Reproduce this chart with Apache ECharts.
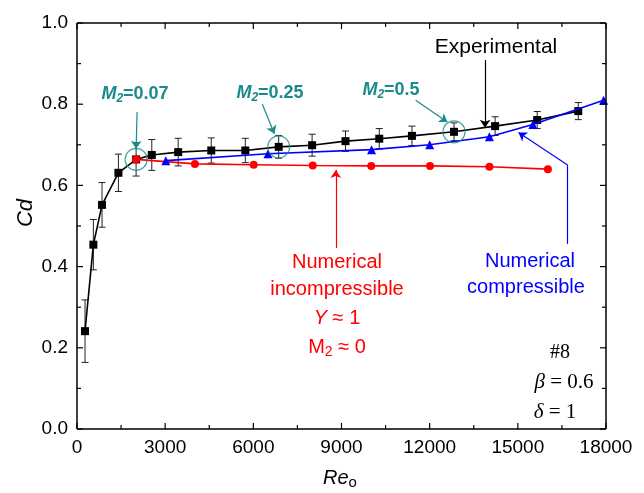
<!DOCTYPE html>
<html>
<head>
<meta charset="utf-8">
<script src="https://cdn.jsdelivr.net/npm/echarts@6/dist/echarts.min.js"></script>
<style>
  html, body { margin: 0; padding: 0; background: #fff; }
  #main { width: 644px; height: 493px; background: #fff; }
</style>
</head>
<body>
<div id="main"></div>
<script>
// experimental Cd with error bars
var expX = [273, 557, 852, 1409, 2011, 2545, 3443, 4568, 5727, 6863, 8000, 9136, 10285, 11397, 12829, 14227, 15659, 17056];
var expY = [0.241, 0.454, 0.552, 0.631, 0.664, 0.675, 0.682, 0.686, 0.686, 0.695, 0.699, 0.709, 0.715, 0.722, 0.732, 0.746, 0.761, 0.783];
var expErr = [0.077, 0.062, 0.055, 0.046, 0.041, 0.038, 0.034, 0.031, 0.030, 0.028, 0.027, 0.025, 0.025, 0.024, 0.022, 0.023, 0.021, 0.021];
// numerical compressible
var compX = [3023, 6500, 10023, 12000, 14034, 15511, 17920];
var compY = [0.661, 0.678, 0.688, 0.700, 0.720, 0.750, 0.810];
// numerical incompressible
var incX = [2011, 4012, 6011, 8022, 10012, 12011, 14034, 16023];
var incY = [0.664, 0.653, 0.651, 0.649, 0.648, 0.648, 0.646, 0.640];
// circled points (M2 = 0.07, 0.25, 0.5)
var circX = [2011, 6863, 12829];
var circY = [0.664, 0.695, 0.732];

var xTicks = [0, 3000, 6000, 9000, 12000, 15000, 18000];
var yTicks = [0.0, 0.2, 0.4, 0.6, 0.8, 1.0];

var TEAL = '#1a8a8a';
var SANS = '"Liberation Sans", Arial, sans-serif';
var SERIF = '"Liberation Serif", "Times New Roman", serif';

function zip(xs, ys) { return xs.map(function (x, i) { return [x, ys[i]]; }); }
function mids(t) {
    var out = [];
    for (var i = 0; i < t.length - 1; i++) out.push((t[i] + t[i + 1]) / 2);
    return out;
}

var myChart = echarts.init(document.getElementById('main'));

function arrow(p1, p2, color, head) {
    return [
        { coord: p1, symbol: 'none', lineStyle: { color: color } },
        { coord: p2, symbol: head ? 'arrow' : 'none' }
    ];
}

function m2Label(x, y, val) {
    return {
        type: 'text', x: x, y: y, z: 100,
        style: {
            text: '{m|M}{s|2}{n|=' + val + '}', align: 'center', verticalAlign: 'middle',
            rich: {
                m: { font: 'italic bold 18px ' + SANS, fill: TEAL },
                s: { font: 'italic bold 12px ' + SANS, fill: TEAL, padding: [9, 0, 0, 0] },
                n: { font: 'bold 18px ' + SANS, fill: TEAL }
            }
        }
    };
}

var labels = [
    m2Label(135, 94, '0.07'),
    m2Label(270, 93, '0.25'),
    m2Label(391, 90, '0.5'),
    {
        type: 'text', x: 496, y: 47, z: 100,
        style: { text: 'Experimental', font: '21px ' + SANS, fill: '#000', align: 'center', verticalAlign: 'middle' }
    },
    // incompressible label
    {
        type: 'text', x: 337, y: 262, z: 100,
        style: { text: 'Numerical', font: '20px ' + SANS, fill: '#ff0000', align: 'center', verticalAlign: 'middle' }
    },
    {
        type: 'text', x: 337, y: 289, z: 100,
        style: { text: 'incompressible', font: '20px ' + SANS, fill: '#ff0000', align: 'center', verticalAlign: 'middle' }
    },
    {
        type: 'text', x: 337, y: 318, z: 100,
        style: {
            text: '{i|Y}{n| ≈ 1}', align: 'center', verticalAlign: 'middle',
            rich: {
                i: { font: 'italic 20px ' + SANS, fill: '#ff0000' },
                n: { font: '20px ' + SANS, fill: '#ff0000' }
            }
        }
    },
    {
        type: 'text', x: 337, y: 347, z: 100,
        style: {
            text: '{n|M}{s|2}{n| ≈ 0}', align: 'center', verticalAlign: 'middle',
            rich: {
                n: { font: '20px ' + SANS, fill: '#ff0000' },
                s: { font: '14px ' + SANS, fill: '#ff0000', padding: [10, 0, 0, 0] }
            }
        }
    },
    // compressible label
    {
        type: 'text', x: 530, y: 261, z: 100,
        style: { text: 'Numerical', font: '20px ' + SANS, fill: '#0000ff', align: 'center', verticalAlign: 'middle' }
    },
    {
        type: 'text', x: 526, y: 287, z: 100,
        style: { text: 'compressible', font: '20px ' + SANS, fill: '#0000ff', align: 'center', verticalAlign: 'middle' }
    },
    // case info
    {
        type: 'text', x: 560, y: 353, z: 100,
        style: { text: '#8', font: '20px ' + SERIF, fill: '#000', align: 'center', verticalAlign: 'middle' }
    },
    {
        type: 'text', x: 564, y: 382, z: 100,
        style: {
            text: '{i|β}{n| = 0.6}', align: 'center', verticalAlign: 'middle',
            rich: {
                i: { font: 'italic 21px ' + SERIF, fill: '#000' },
                n: { font: '21px ' + SERIF, fill: '#000' }
            }
        }
    },
    {
        type: 'text', x: 555, y: 412, z: 100,
        style: {
            text: '{i|δ}{n| = 1}', align: 'center', verticalAlign: 'middle',
            rich: {
                i: { font: 'italic 21px ' + SERIF, fill: '#000' },
                n: { font: '21px ' + SERIF, fill: '#000' }
            }
        }
    },
    // axis titles
    {
        type: 'text', x: 26, y: 213, rotation: Math.PI / 2, z: 100,
        style: { text: 'Cd', font: 'italic 22px ' + SANS, fill: '#000', align: 'center', verticalAlign: 'middle' }
    },
    {
        type: 'text', x: 340, y: 478, z: 100,
        style: {
            text: '{r|Re}{s|o}', align: 'center', verticalAlign: 'middle',
            rich: {
                r: { font: 'italic 20px ' + SANS, fill: '#000' },
                s: { font: '15px ' + SANS, fill: '#000', padding: [10, 0, 0, 0] }
            }
        }
    }
];

var option = {
    animation: false,
    grid: { left: 77, right: 38, top: 23, bottom: 64 },
    xAxis: {
        type: 'value', min: xTicks[0], max: xTicks[xTicks.length - 1], interval: 3000,
        axisLine: { show: false },
        axisTick: { show: false },
        axisLabel: { color: '#000', fontSize: 19, fontFamily: SANS, margin: 9,
            formatter: function (v) { return String(v); } },
        splitLine: { show: false }
    },
    yAxis: {
        type: 'value', min: yTicks[0], max: yTicks[yTicks.length - 1], interval: 0.2,
        axisLine: { show: false },
        axisTick: { show: false },
        axisLabel: { color: '#000', fontSize: 19, fontFamily: SANS, margin: 9,
            formatter: function (v) { return v.toFixed(1); } },
        splitLine: { show: false }
    },
    series: [
        {
            name: 'errors',
            type: 'custom',
            z: 3,
            data: expX.map(function (x, i) { return [x, expY[i] - expErr[i], expY[i] + expErr[i]]; }),
            renderItem: function (params, api) {
                var top = api.coord([api.value(0), api.value(2)]);
                var bot = api.coord([api.value(0), api.value(1)]);
                var w = 3.5;
                var st = { stroke: '#222', lineWidth: 1 };
                return {
                    type: 'group',
                    children: [
                        { type: 'line', shape: { x1: top[0], y1: top[1], x2: bot[0], y2: bot[1] }, style: st },
                        { type: 'line', shape: { x1: top[0] - w, y1: top[1], x2: top[0] + w, y2: top[1] }, style: st },
                        { type: 'line', shape: { x1: bot[0] - w, y1: bot[1], x2: bot[0] + w, y2: bot[1] }, style: st }
                    ]
                };
            }
        },
        {
            name: 'Experimental',
            type: 'line',
            z: 4,
            data: zip(expX, expY),
            symbol: 'rect',
            symbolSize: 8,
            lineStyle: { color: '#000', width: 1.6 },
            itemStyle: { color: '#000' }
        },
        {
            name: 'Numerical incompressible',
            type: 'line',
            z: 5,
            data: zip(incX, incY),
            symbol: 'circle',
            symbolSize: 8,
            lineStyle: { color: '#ff0000', width: 1.6 },
            itemStyle: { color: '#ff0000' }
        },
        {
            name: 'Numerical compressible',
            type: 'line',
            z: 6,
            data: zip(compX, compY),
            symbol: 'triangle',
            symbolSize: 9,
            lineStyle: { color: '#0000ff', width: 1.6 },
            itemStyle: { color: '#0000ff' }
        },
        {
            name: 'circles',
            type: 'scatter',
            z: 7,
            data: zip(circX, circY),
            symbol: 'circle',
            symbolSize: 22,
            itemStyle: { color: 'rgba(0,0,0,0)', borderColor: TEAL, borderWidth: 1.2 },
            markLine: {
                silent: true,
                animation: false,
                symbolSize: 8,
                label: { show: false },
                lineStyle: { type: 'solid', width: 1.2 },
                data: [
                    arrow([2045, 0.781], [2011, 0.690], TEAL, true),
                    arrow([6307, 0.800], [6716, 0.727], TEAL, true),
                    arrow([11522, 0.810], [12602, 0.756], TEAL, true),
                    arrow([13885, 0.909], [13885, 0.742], '#000', true),
                    arrow([8806, 0.446], [8806, 0.638], '#ff0000', true),
                    arrow([16693, 0.456], [16693, 0.650], '#0000ff', false),
                    arrow([16693, 0.650], [15023, 0.730], '#0000ff', true)
                ]
            }
        }
    ],
    graphic: labels
};

myChart.setOption(option);

// box frame with inward major / minor ticks, placed through the axis scales
var bl = myChart.convertToPixel({ gridIndex: 0 }, [xTicks[0], yTicks[0]]);
var tr = myChart.convertToPixel({ gridIndex: 0 }, [xTicks[xTicks.length - 1], yTicks[yTicks.length - 1]]);
var frame = [];
function seg(x1, y1, x2, y2, w) {
    frame.push({ type: 'line', z: 50, silent: true,
        shape: { x1: x1, y1: y1, x2: x2, y2: y2 },
        style: { stroke: '#000', lineWidth: w } });
}
seg(bl[0], bl[1], tr[0], bl[1], 1.5);
seg(bl[0], tr[1], tr[0], tr[1], 1.5);
seg(bl[0], bl[1], bl[0], tr[1], 1.5);
seg(tr[0], bl[1], tr[0], tr[1], 1.5);
function xt(v, len) {
    var px = myChart.convertToPixel({ gridIndex: 0 }, [v, yTicks[0]])[0];
    seg(px, bl[1], px, bl[1] - len, 1.2);
    seg(px, tr[1], px, tr[1] + len, 1.2);
}
function yt(v, len) {
    var py = myChart.convertToPixel({ gridIndex: 0 }, [xTicks[0], v])[1];
    seg(bl[0], py, bl[0] + len, py, 1.2);
    seg(tr[0], py, tr[0] - len, py, 1.2);
}
xTicks.forEach(function (v) { xt(v, 6); });
mids(xTicks).forEach(function (v) { xt(v, 4); });
yTicks.forEach(function (v) { yt(v, 6); });
mids(yTicks).forEach(function (v) { yt(v, 4); });

myChart.setOption({ graphic: labels.concat(frame) });
</script>
</body>
</html>
